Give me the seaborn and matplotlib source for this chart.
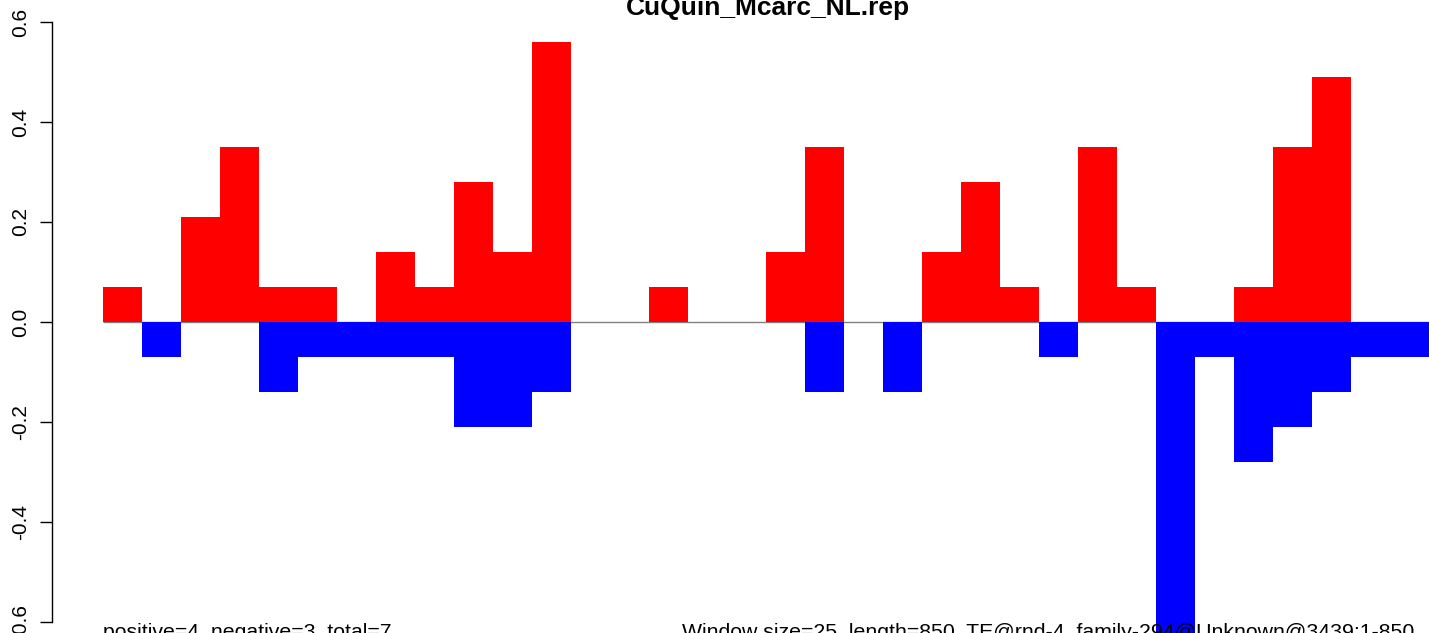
import seaborn as sns
import pandas as pd
import matplotlib.pyplot as plt

# Datos: ventanas de 25 pb sobre 850 pb
ventana = list(range(34))
positivos = [0.07, 0, 0.21, 0.35, 0.07, 0.07, 0, 0.14, 0.07, 0.28, 0.14, 0.56,
             0, 0, 0.07, 0, 0, 0.14, 0.35, 0, 0, 0.14, 0.28, 0.07,
             0, 0.35, 0.07, 0, 0, 0.07, 0.35, 0.49, 0, 0]
negativos = [0, -0.07, 0, 0, -0.14, -0.07, -0.07, -0.07, -0.07, -0.21, -0.21, -0.14,
             0, 0, 0, 0, 0, 0, -0.14, 0, -0.14, 0, 0, 0,
             -0.07, 0, 0, -0.70, -0.07, -0.28, -0.21, -0.14, -0.07, -0.07]
y_ticks = [-0.6, -0.4, -0.2, 0.0, 0.2, 0.4, 0.6]

titulo = "CuQuin_Mcarc_NL.rep"
texto_izq = "positive=4, negative=3, total=7"
texto_der = "Window size=25, length=850, TE@rnd-4_family-294@Unknown@3439:1-850"

df = pd.DataFrame({"ventana": ventana, "pos": positivos, "neg": negativos})

sns.set_style("white")
plt.rcParams["font.family"] = ["Liberation Sans", "DejaVu Sans"]
plt.rcParams["text.color"] = "black"
plt.rcParams["ytick.color"] = "black"

fig = plt.figure(figsize=(14.29, 6.33), dpi=100)
ax = fig.add_axes([52 / 1429, 11 / 633, 1377 / 1429, 600 / 633])

ax.hlines(0, -0.5, 33.5, color="gray", lw=1, zorder=0)
sns.barplot(x="ventana", y="pos", data=df, color="red", width=1, saturation=1,
            linewidth=0, ax=ax, zorder=2)
sns.barplot(x="ventana", y="neg", data=df, color="blue", width=1, saturation=1,
            linewidth=0, ax=ax, zorder=2)
for p in ax.patches:
    p.set_clip_on(False)

ax.set_xlim(-0.5 - 51 / 39, 33.5)
ax.set_ylim(-0.6, 0.6)
ax.set_yticks(y_ticks)
ax.set_yticklabels([f"{t:.1f}" for t in y_ticks], rotation=90, va="center",
                   fontsize=15, color="black")
ax.tick_params(axis="y", left=True, length=9, width=1, pad=7, color="black")
ax.set_xticks([])
ax.set_xlabel("")
ax.set_ylabel("")
for s in ["top", "right", "bottom"]:
    ax.spines[s].set_visible(False)
ax.spines["left"].set_color("black")
ax.spines["left"].set_linewidth(1)

fig.text(768 / 1429, 1 - 15 / 633, titulo, ha="center", va="baseline",
         fontsize=19, fontweight="bold", color="black")
fig.text(103 / 1429, -5 / 633, texto_izq, ha="left", va="baseline",
         fontsize=15.3, color="black")
fig.text(682 / 1429, -5 / 633, texto_der, ha="left", va="baseline",
         fontsize=15.3, color="black")

plt.savefig("out.png", dpi=100)
